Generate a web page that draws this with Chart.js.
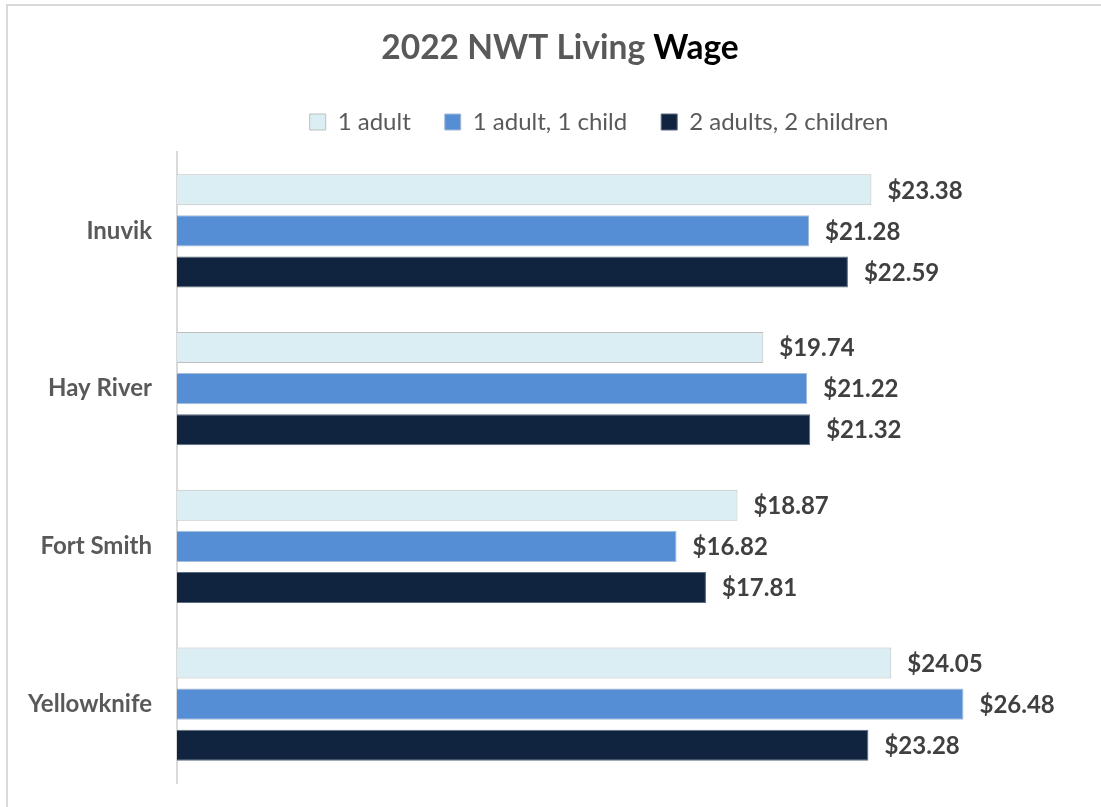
<!DOCTYPE html>
<html>
<head>
<meta charset="utf-8">
<script src="https://cdn.jsdelivr.net/npm/chart.js@4.4.0/dist/chart.umd.min.js"></script>
<style>
  html, body { margin: 0; padding: 0; background: #ffffff; }
  #c { display: block; }
</style>
</head>
<body>
<canvas id="c" width="1101" height="807"></canvas>
<script>
// ---- Data ----
const categories = ["Inuvik", "Hay River", "Fort Smith", "Yellowknife"];
const seriesNames = ["1 adult", "1 adult, 1 child", "2 adults, 2 children"];
const oneAdult = [23.38, 19.74, 18.87, 24.05];
const oneAdultOneChild = [21.28, 21.22, 16.82, 26.48];
const twoAdultsTwoChildren = [22.59, 21.32, 17.81, 23.28];
const titleMain = "2022 NWT Living ";
const titleEmph = "Wage";

const FONT = "Lato, 'Open Sans', sans-serif";
const TITLE_SIZE = 33.5;

const frame = {
  id: 'frame',
  beforeDraw(chart) {
    const ctx = chart.ctx;
    ctx.save();
    ctx.fillStyle = '#ffffff';
    ctx.fillRect(0, 0, chart.width, chart.height);
    ctx.strokeStyle = '#d9d9d9';
    ctx.lineWidth = 2;
    ctx.beginPath();
    ctx.moveTo(7, chart.height);
    ctx.lineTo(7, 5);
    ctx.lineTo(chart.width, 5);
    ctx.stroke();
    ctx.restore();
  }
};

const legendFit = {
  id: 'legendFit',
  beforeLayout(chart) {
    const lg = chart.legend;
    if (lg && !lg._patched) {
      const f = lg.fit.bind(lg);
      lg.fit = function () { f(); this.height = 76; };
      lg._patched = true;
    }
  },
  afterLayout(chart) {
    const lg = chart.legend;
    if (lg) { lg.left += 65; lg.right += 65; }
  }
};

const twoToneTitle = {
  id: 'twoToneTitle',
  afterDraw(chart) {
    const tb = chart.titleBlock;
    if (!tb) return;
    const ctx = chart.ctx;
    ctx.save();
    ctx.font = "bold " + TITLE_SIZE + "px " + FONT;
    ctx.textBaseline = 'middle';
    ctx.textAlign = 'left';
    const w1 = ctx.measureText(titleMain).width;
    const w2 = ctx.measureText(titleEmph).width;
    const cx = (tb.left + tb.right) / 2 + 26;
    const x0 = cx - (w1 + w2) / 2;
    const y = tb.top + tb.options.padding.top + TITLE_SIZE * 1.2 / 2;
    ctx.fillStyle = '#595959';
    ctx.fillText(titleMain, x0, y);
    ctx.fillStyle = '#000000';
    ctx.fillText(titleEmph, x0 + w1, y);
    ctx.restore();
  }
};

const valueLabels = {
  id: 'valueLabels',
  afterDatasetsDraw(chart) {
    const ctx = chart.ctx;
    ctx.save();
    ctx.font = "bold 24px " + FONT;
    ctx.fillStyle = '#404040';
    ctx.textAlign = 'left';
    ctx.textBaseline = 'middle';
    chart.data.datasets.forEach((ds, i) => {
      const meta = chart.getDatasetMeta(i);
      meta.data.forEach((bar, j) => {
        const v = ds.data[j];
        ctx.fillText('$' + v.toFixed(2), bar.x + 16, bar.y + 1);
      });
    });
    ctx.restore();
  }
};

new Chart(document.getElementById('c'), {
  type: 'bar',
  data: {
    labels: categories,
    datasets: [
      { label: seriesNames[0], data: oneAdult, backgroundColor: '#DAEEF3', borderColor: '#BFBFBF', borderWidth: 1 },
      { label: seriesNames[1], data: oneAdultOneChild, backgroundColor: '#558ED5', borderColor: '#A6BCD8', borderWidth: 1 },
      { label: seriesNames[2], data: twoAdultsTwoChildren, backgroundColor: '#10243F', borderColor: '#5B6B80', borderWidth: 1 }
    ]
  },
  options: {
    indexAxis: 'y',
    responsive: false,
    animation: false,
    devicePixelRatio: 1,
    categoryPercentage: 0.78,
    barPercentage: 0.756,
    layout: { padding: { left: 0, right: 33, top: 0, bottom: 24 } },
    plugins: {
      title: {
        display: true,
        text: titleMain + titleEmph,
        color: 'rgba(0,0,0,0)',
        font: { family: FONT, size: TITLE_SIZE, weight: 'bold', lineHeight: 1.2 },
        padding: { top: 27.9, bottom: 7.9 }
      },
      legend: {
        display: true,
        position: 'top',
        labels: {
          color: '#595959',
          font: { family: FONT, size: 24 },
          boxWidth: 16,
          boxHeight: 16,
          padding: 34
        }
      },
      tooltip: { enabled: false }
    },
    scales: {
      x: { display: false, min: 0, max: 30 },
      y: {
        afterFit(scale) { scale.width = 177; scale.paddingTop = 0; scale.paddingBottom = 0; },
        grid: { display: false, drawTicks: false },
        border: { display: true, color: '#d9d9d9', width: 2 },
        ticks: {
          color: '#595959',
          padding: 25,
          font: { family: FONT, size: 24, weight: 'bold' }
        }
      }
    }
  },
  plugins: [frame, legendFit, twoToneTitle, valueLabels]
});
</script>
</body>
</html>
